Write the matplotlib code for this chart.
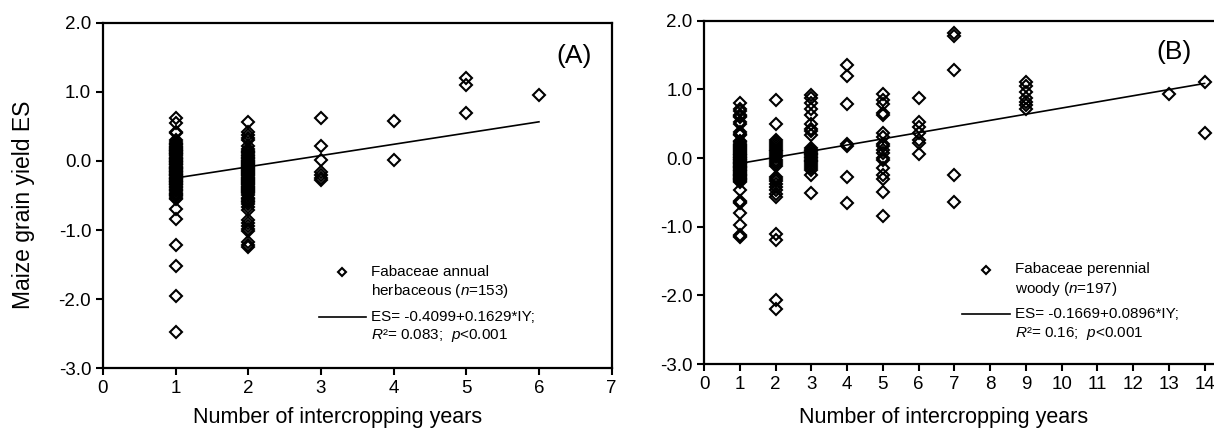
import matplotlib
matplotlib.use('Agg')
import matplotlib.pyplot as plt
from matplotlib.lines import Line2D
from matplotlib.legend_handler import HandlerLine2D

plt.rcParams['font.family'] = ['Liberation Sans', 'DejaVu Sans']
plt.rcParams['mathtext.fontset'] = 'custom'
plt.rcParams['mathtext.rm'] = 'Liberation Sans'
plt.rcParams['mathtext.it'] = 'Liberation Sans:italic'

# (A) Fabaceae annual herbaceous: effect sizes per intercropping year
a_years = [1, 2, 3, 4, 5, 6]
a_es = [
    [0.62, 0.55, 0.42, 0.40, 0.30, 0.27, 0.25, 0.24, 0.22, 0.20, 0.19, 0.18,
     0.16, 0.15, 0.14, 0.12, 0.11, 0.10, 0.08, 0.07, 0.05, 0.04, 0.03, 0.02,
     0.00, -0.01, -0.02, -0.04, -0.05, -0.06, -0.08, -0.09, -0.10, -0.11,
     -0.12, -0.14, -0.15, -0.16, -0.18, -0.19, -0.20, -0.21, -0.22, -0.24,
     -0.25, -0.26, -0.27, -0.29, -0.30, -0.31, -0.33, -0.34, -0.35, -0.37,
     -0.38, -0.40, -0.42, -0.44, -0.46, -0.48, -0.50, -0.51, -0.53, -0.55,
     -0.70, -0.84, -1.21, -1.52, -1.96, -2.48],
    [0.57, 0.42, 0.38, 0.33, 0.30, 0.22, 0.18, 0.15, 0.13, 0.11, 0.09, 0.07,
     0.05, 0.04, 0.02, 0.00, -0.01, -0.03, -0.04, -0.06, -0.07, -0.09, -0.10,
     -0.12, -0.13, -0.15, -0.16, -0.18, -0.19, -0.21, -0.22, -0.24, -0.25,
     -0.27, -0.28, -0.30, -0.31, -0.33, -0.34, -0.36, -0.37, -0.39, -0.40,
     -0.42, -0.43, -0.45, -0.47, -0.50, -0.53, -0.55, -0.58, -0.60, -0.62,
     -0.66, -0.71, -0.86, -0.90, -0.94, -0.98, -1.02, -1.18, -1.22, -1.24],
    [0.63, 0.21, 0.01, -0.16, -0.21, -0.25, -0.27],
    [0.58, 0.01],
    [1.20, 1.10, 0.70],
    [0.96],
]
a_fit = (-0.4099, 0.1629)

# (B) Fabaceae perennial woody
b_years = [1, 2, 3, 4, 5, 6, 7, 9, 13, 14]
b_es = [
    [0.80, 0.72, 0.68, 0.63, 0.62, 0.60, 0.53, 0.50, 0.38, 0.35, 0.33, 0.25,
     0.23, 0.21, 0.19, 0.18, 0.16, 0.15, 0.13, 0.12, 0.10, 0.09, 0.08, 0.06,
     0.05, 0.04, 0.02, 0.01, 0.00, -0.01, -0.02, -0.03, -0.05, -0.06, -0.07,
     -0.08, -0.09, -0.11, -0.12, -0.13, -0.14, -0.15, -0.17, -0.18, -0.19,
     -0.20, -0.21, -0.23, -0.24, -0.25, -0.26, -0.27, -0.29, -0.30, -0.31,
     -0.32, -0.33, -0.35, -0.47, -0.62, -0.64, -0.66, -0.80, -0.97, -1.12,
     -1.14, -1.15],
    [0.85, 0.50, 0.27, 0.24, 0.20, 0.17, 0.15, 0.12, 0.10, 0.07, 0.04, 0.02,
     -0.02, -0.05, -0.08, -0.12, -0.27, -0.30, -0.33, -0.37, -0.42, -0.47,
     -0.52, -0.56, -1.10, -1.19, -2.07, -2.19],
    [0.92, 0.87, 0.80, 0.72, 0.63, 0.50, 0.43, 0.40, 0.33, 0.15, 0.12, 0.10,
     0.08, 0.06, 0.04, 0.02, 0.00, -0.02, -0.04, -0.06, -0.09, -0.12, -0.15,
     -0.17, -0.25, -0.51],
    [1.36, 1.19, 0.79, 0.20, 0.17, -0.27, -0.66],
    [0.94, 0.84, 0.79, 0.65, 0.63, 0.36, 0.31, 0.21, 0.17, 0.12, 0.07, 0.00,
     -0.03, -0.15, -0.25, -0.30, -0.49, -0.84],
    [0.88, 0.53, 0.46, 0.36, 0.27, 0.22, 0.06],
    [1.82, 1.78, 1.29, -0.24, -0.64],
    [1.11, 1.05, 0.97, 0.87, 0.82, 0.77, 0.72],
    [0.94],
    [1.11, 0.36],
]
b_fit = (-0.1669, 0.0896)

panels = [
    dict(years=a_years, es=a_es, fit=a_fit, tag='(A)', xmax=7, xlim=7,
         rect=[0.0848, 0.150, 0.419, 0.797], tagpos=(0.927, 0.905),
         leg=(0.424, 0.30), xlab_y=-0.112,
         lab1='Fabaceae annual\nherbaceous ($n$=153)',
         lab2='ES= -0.4099+0.1629*IY;\n$R$²= 0.083;  $p$<0.001'),
    dict(years=b_years, es=b_es, fit=b_fit, tag='(B)', xmax=14, xlim=14.5,
         rect=[0.580, 0.159, 0.427, 0.793], tagpos=(0.907, 0.91),
         leg=(0.498, 0.297), xlab_y=-0.125,
         lab1='Fabaceae perennial\nwoody ($n$=197)',
         lab2='ES= -0.1669+0.0896*IY;\n$R$²= 0.16;  $p$<0.001'),
]


class FirstLineHandler(HandlerLine2D):
    # put the legend key level with the first line of a two-line label
    def create_artists(self, legend, orig_handle, xdescent, ydescent,
                       width, height, fontsize, trans):
        arts = super().create_artists(legend, orig_handle, xdescent, ydescent,
                                      width, height, fontsize, trans)
        for a in arts:
            a.set_ydata([y + 0.67 * fontsize for y in a.get_ydata()])
        return arts


fig = plt.figure(figsize=(12.14, 4.33), dpi=100)

for i, p in enumerate(panels):
    ax = fig.add_axes(p['rect'])
    for yr, vals in zip(p['years'], p['es']):
        ax.plot([yr] * len(vals), vals, linestyle='none', marker='D', ms=6,
                mfc='none', mec='black', mew=1.5)
    x0, x1 = min(p['years']), max(p['years'])
    b0, b1 = p['fit']
    ax.plot([x0, x1], [b0 + b1 * x0, b0 + b1 * x1], color='black', lw=1.2)

    ax.set_xlim(0, p['xlim'])
    ax.set_ylim(-3, 2)
    ax.set_xticks(range(0, p['xmax'] + 1))
    ax.set_yticks([-3, -2, -1, 0, 1, 2])
    ax.set_yticklabels(['%.1f' % v for v in [-3, -2, -1, 0, 1, 2]])
    ax.tick_params(direction='out', length=5, width=1.5, labelsize=13.5,
                   top=False, right=False)
    for s in ax.spines.values():
        s.set_linewidth(1.6)
    ax.set_xlabel('Number of intercropping years', fontsize=15.5)
    ax.xaxis.set_label_coords(0.462, p['xlab_y'])
    if i == 0:
        ax.set_ylabel('Maize grain yield ES', fontsize=16.5)
        ax.yaxis.set_label_coords(-0.133, 0.472)
    ax.text(p['tagpos'][0], p['tagpos'][1], p['tag'], transform=ax.transAxes,
            fontsize=19, ha='center', va='center')

    h1 = Line2D([], [], linestyle='none', marker='D', ms=4, mfc='none',
                mec='black', mew=1.5)
    h2 = Line2D([], [], color='black', lw=1.2)
    leg = ax.legend([h1, h2], [p['lab1'], p['lab2']], loc='upper left',
                    bbox_to_anchor=p['leg'], frameon=False, fontsize=11,
                    handlelength=3.1, handletextpad=0.35, labelspacing=0.6,
                    borderpad=0, borderaxespad=0,
                    handler_map={Line2D: FirstLineHandler()})
    for t in leg.get_texts():
        t.set_linespacing(1.3)

fig.savefig('out.png', dpi=100)
